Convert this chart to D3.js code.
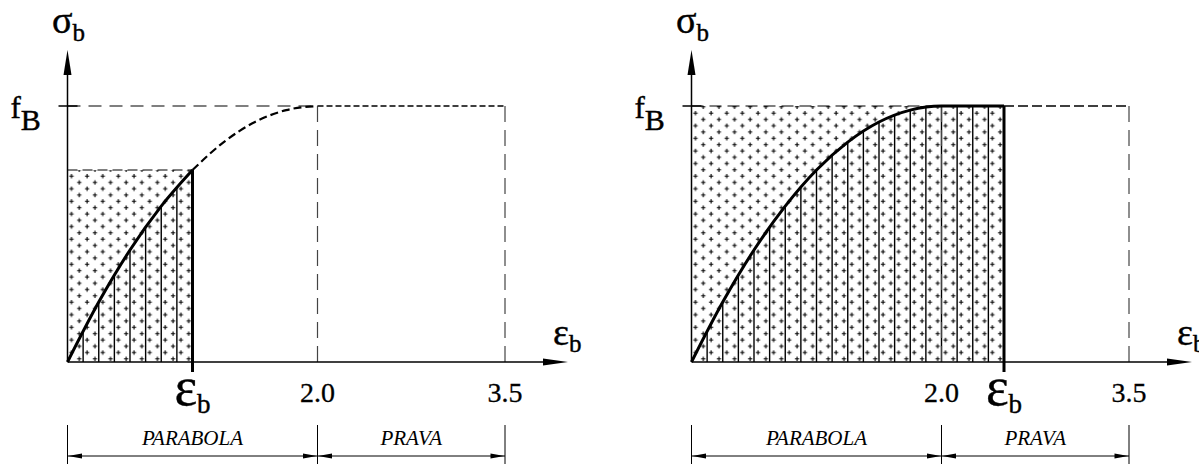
<!DOCTYPE html>
<html>
<head>
<meta charset="utf-8">
<script src="https://cdn.jsdelivr.net/npm/d3@7"></script>
<style>
  body { margin: 0; background: #fff; }
  svg { display: block; }
  svg text { font-family: 'Liberation Serif', 'DejaVu Serif', 'Times New Roman', serif; }
</style>
</head>
<body>
<div id="chart"></div>
<script>
// strain (per mille) and stress (fraction of fB)
const curveStrain = [0, 0.25, 0.5, 0.75, 1.0, 1.25, 1.5, 1.75, 2.0, 3.5];
const curveStress = [0, 0.234, 0.4375, 0.609, 0.75, 0.859, 0.9375, 0.984, 1.0, 1.0];
// strain at the compressed edge in each of the two diagrams
const panelStrainB = [1.0, 2.5];
const strainTicks = [2.0, 3.5];
const strainTickLabels = ["2.0", "3.5"];
const zoneBounds = [0, 2.0, 3.5];
const zoneLabels = ["PARABOLA", "PRAVA"];

const W = 1199, H = 464;
const panelLeft = [67.5, 691.5];
const axisY = 362, topY = 106;
const serif = "Liberation Serif, DejaVu Serif, serif";

const svg = d3.select("#chart").append("svg")
    .attr("width", W)
    .attr("height", H)
    .attr("font-family", serif);

const defs = svg.append("defs");

// small staggered crosses used as fill, one pattern per panel so it lines up with the hatching
function plusPattern(id, x0) {
    const pat = defs.append("pattern")
        .attr("id", id)
        .attr("patternUnits", "userSpaceOnUse")
        .attr("patternTransform", `translate(${x0},${axisY})`)
        .attr("width", 15.625)
        .attr("height", 12.6);
    [[4, 3.2], [11.8, 9.5]].forEach(([cx, cy]) => {
        pat.append("path")
            .attr("d", `M${cx - 2.2},${cy}H${cx + 2.2}M${cx},${cy - 2.2}V${cy + 2.2}`)
            .attr("stroke", "#000")
            .attr("stroke-width", 1.1);
    });
}

const stressAt = d3.scaleLinear().domain(curveStrain).range(curveStress);

function subLabel(g, x, y, main, sub, size, subSize, dy, anchor) {
    const t = g.append("text")
        .attr("x", x)
        .attr("y", y)
        .attr("font-family", serif)
        .attr("text-anchor", anchor || "start")
        .attr("font-size", size)
        .attr("stroke", "#000")
        .attr("stroke-width", 0.4);
    t.append("tspan").text(main);
    t.append("tspan").attr("font-size", subSize).attr("dy", dy).text(sub);
    return t;
}

function arrowHead(g, tipX, tipY, dir, len, half) {
    let d;
    if (dir === "up") d = `M${tipX},${tipY}L${tipX - half},${tipY + len}L${tipX + half},${tipY + len}Z`;
    else if (dir === "right") d = `M${tipX},${tipY}L${tipX - len},${tipY - half}L${tipX - len},${tipY + half}Z`;
    else d = `M${tipX},${tipY}L${tipX + len},${tipY - half}L${tipX + len},${tipY + half}Z`;
    g.append("path").attr("d", d).attr("fill", "#000");
}

function drawPanel(x0, epsB, idx) {
    const x = d3.scaleLinear().domain([0, 3.5]).range([x0, x0 + 437.5]);
    const y = d3.scaleLinear().domain([0, 1]).range([axisY, topY]);
    const g = svg.append("g");
    const sB = stressAt(epsB);

    const pts = curveStrain.map((s, i) => [s, curveStress[i]]);
    const solidPts = pts.filter(p => p[0] < epsB).concat([[epsB, sB]]);

    const line = d3.line().x(d => x(d[0])).y(d => y(d[1])).curve(d3.curveMonotoneX);
    const area = d3.area().x(d => x(d[0])).y0(y(0)).y1(d => y(d[1])).curve(d3.curveMonotoneX);

    // dotted block up to epsB
    plusPattern("plus" + idx, x0);
    g.append("rect")
        .attr("x", x(0))
        .attr("y", y(sB))
        .attr("width", x(epsB) - x(0))
        .attr("height", y(0) - y(sB))
        .attr("fill", `url(#plus${idx})`);

    // vertical hatching under the curve
    defs.append("clipPath").attr("id", "under" + idx)
        .append("path").attr("d", area(solidPts));
    g.append("g")
        .attr("clip-path", `url(#under${idx})`)
        .selectAll("line")
        .data(d3.range(0.125, epsB - 0.01, 0.125))
        .join("line")
        .attr("x1", d => x(d)).attr("x2", d => x(d))
        .attr("y1", y(0)).attr("y2", y(1))
        .attr("stroke", "#000")
        .attr("stroke-width", 1.4);

    // f_B level
    const fbEnd = Math.max(2.0, epsB);
    g.append("line")
        .attr("x1", x(0)).attr("x2", x(fbEnd))
        .attr("y1", y(1)).attr("y2", y(1))
        .attr("stroke", "#000")
        .attr("stroke-width", 1.2)
        .attr("stroke-dasharray", idx === 0 ? "13,8" : "12,6");
    g.append("line")
        .attr("x1", x(fbEnd)).attr("x2", x(3.5))
        .attr("y1", y(1)).attr("y2", y(1))
        .attr("stroke", "#000")
        .attr("stroke-width", 1.5)
        .attr("stroke-dasharray", idx === 0 ? "6,3" : "10,4");

    // dashed verticals at the tick strains
    g.selectAll(".vdash")
        .data(strainTicks)
        .join("line")
        .attr("x1", d => x(d)).attr("x2", d => x(d))
        .attr("y1", y(1)).attr("y2", y(0))
        .attr("stroke", "#444")
        .attr("stroke-width", 1.2)
        .attr("stroke-dasharray", "16,8");

    if (epsB < 2.0) {
        // stress level reached at epsB
        g.append("line")
            .attr("x1", x(0)).attr("x2", x(epsB))
            .attr("y1", y(sB)).attr("y2", y(sB))
            .attr("stroke", "#000")
            .attr("stroke-width", 1.2)
            .attr("stroke-dasharray", "10,5");
        // rest of the parabola, dashed
        g.append("path")
            .datum(pts.filter(p => p[0] >= epsB && p[0] <= 2.0))
            .attr("d", line)
            .attr("fill", "none")
            .attr("stroke", "#000")
            .attr("stroke-width", 2.2)
            .attr("stroke-dasharray", "8,4");
    }

    // solid curve
    g.append("path")
        .datum(solidPts)
        .attr("d", line)
        .attr("fill", "none")
        .attr("stroke", "#000")
        .attr("stroke-width", 3);

    // axes
    g.append("line")
        .attr("x1", x(0)).attr("x2", x(0))
        .attr("y1", y(0)).attr("y2", 70)
        .attr("stroke", "#000").attr("stroke-width", 1.5);
    arrowHead(g, x(0), 50, "up", 25, 4);
    const tipX = x(3.5) + 63;
    g.append("line")
        .attr("x1", x(0)).attr("x2", tipX - 20)
        .attr("y1", y(0)).attr("y2", y(0))
        .attr("stroke", "#000").attr("stroke-width", 1.5);
    arrowHead(g, tipX, y(0), "right", 25, 3.5);

    // f_B tick
    g.append("line")
        .attr("x1", x(0) - 9).attr("x2", x(0) + 10)
        .attr("y1", y(1)).attr("y2", y(1))
        .attr("stroke", "#000").attr("stroke-width", 1.5);

    // epsB edge
    g.append("line")
        .attr("x1", x(epsB)).attr("x2", x(epsB))
        .attr("y1", y(sB)).attr("y2", y(0) + 10)
        .attr("stroke", "#000").attr("stroke-width", 3);

    // labels
    subLabel(g, x(0) - 15.5, 33, "σ", "b", 38, 25, 8);
    subLabel(g, x(0) - 57, 118, "f", "B", 31, 30, 12);
    subLabel(g, x(3.5) + 48, 345, "ε", "b", 38, 25, 7);
    subLabel(g, x(epsB), 405, "ε", "b", 54, 27, 8, "middle");

    g.selectAll(".tick-label")
        .data(strainTicks)
        .join("text")
        .attr("x", d => x(d))
        .attr("y", 402)
        .attr("font-family", serif)
        .attr("text-anchor", "middle")
        .attr("font-size", 28)
        .attr("stroke", "#000")
        .attr("stroke-width", 0.3)
        .text((d, i) => strainTickLabels[i]);

    // dimension line with zones
    g.selectAll(".ext")
        .data(zoneBounds)
        .join("line")
        .attr("x1", d => x(d)).attr("x2", d => x(d))
        .attr("y1", 425).attr("y2", 464)
        .attr("stroke", "#000").attr("stroke-width", 1);
    g.append("line")
        .attr("x1", x(zoneBounds[0])).attr("x2", x(zoneBounds[zoneBounds.length - 1]))
        .attr("y1", 456).attr("y2", 456)
        .attr("stroke", "#000").attr("stroke-width", 1);
    zoneLabels.forEach((lab, i) => {
        const a = x(zoneBounds[i]), b = x(zoneBounds[i + 1]);
        arrowHead(g, a + 0.5, 456, "left", 14, 2.5);
        arrowHead(g, b - 0.5, 456, "right", 14, 2.5);
        g.append("text")
            .attr("x", (a + b) / 2)
            .attr("y", 445)
            .attr("font-family", serif)
            .attr("text-anchor", "middle")
            .attr("font-size", 21)
            .attr("font-style", "italic")
            .text(lab);
    });
}

panelStrainB.forEach((e, i) => drawPanel(panelLeft[i], e, i));
</script>
</body>
</html>
